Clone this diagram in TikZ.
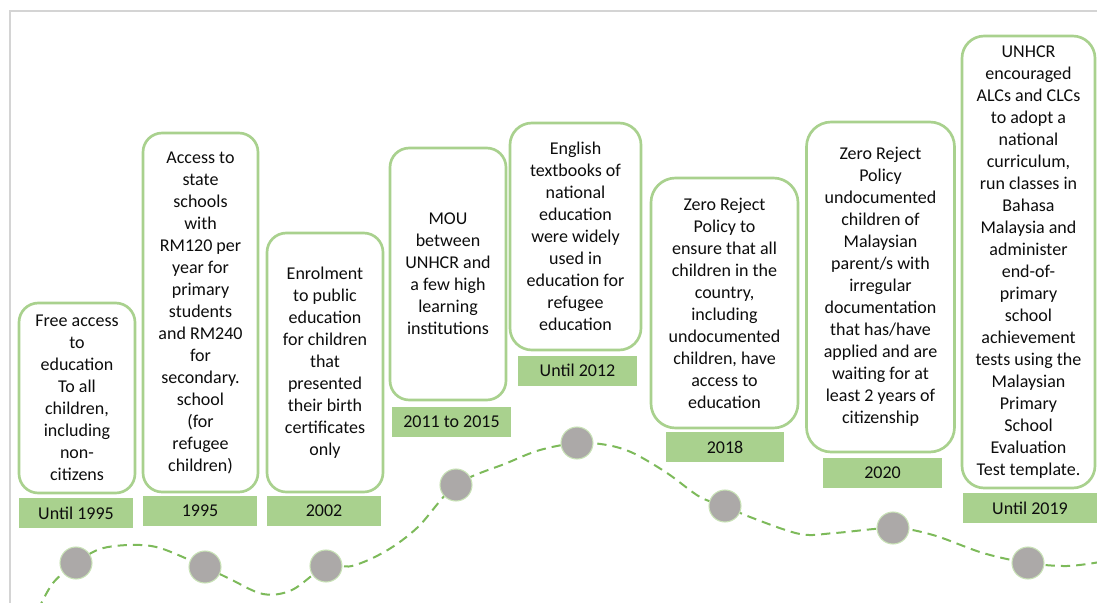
\documentclass[tikz,border=0pt]{standalone}
\usepackage{fontspec}
\setmainfont{Carlito}
\definecolor{boxgreen}{RGB}{169,209,142}
\definecolor{routegreen}{RGB}{125,186,90}
\definecolor{dotgray}{RGB}{172,169,168}
\definecolor{dotedge}{RGB}{200,226,182}
\definecolor{framegray}{RGB}{212,212,212}
\begin{document}
\begin{tikzpicture}[x=0.75pt,y=-0.75pt,
		txt/.style={font=\fontsize{13.5}{16.5}\selectfont, text=black!95, align=center, inner sep=0pt},
		event/.style 2 args={txt, draw=boxgreen, line width=2pt, fill=white, rounded corners=#1*0.125pt, minimum width=#1*0.75pt, minimum height=#2*0.75pt},
		year/.style={txt, fill=boxgreen, minimum width=#1*0.75pt, minimum height=22.5pt},
		dot/.style={circle, fill=dotgray, draw=dotedge, line width=0.8pt, minimum size=24pt, inner sep=0pt},
		route/.style={routegreen, line width=1.5pt, dash pattern=on 7pt off 4.5pt}]
	\useasboundingbox (0,0) rectangle (1097,603);
	\draw [framegray, line width=1.5pt] (10,603) -- (10,11) -- (1097,11);
	
	\node [event={116}{190}] (e1) at (77,398) {Free access\\to\\education\\To all\\children,\\including\\non-\\citizens};
	\node [event={115}{359}] (e2) at (200.5,312.5) {Access to\\state\\schools\\with\\RM120 per\\year for\\primary\\students\\and RM240\\for\\secondary.\\school\\(for\\refugee\\children)};
	\node [event={116}{259}] (e3) at (325,362.5) {Enrolment\\to public\\education\\for children\\that\\presented\\their birth\\certificates\\only};
	\node [event={116}{252}] (e4) at (448,274) {MOU\\between\\UNHCR and\\a few high\\learning\\institutions};
	\node [event={131}{227}] (e5) at (575.5,236.5) {English\\textbooks of\\national\\education\\were widely\\used in\\education for\\refugee\\education};
	\node [event={147}{250}] (e6) at (724.5,303) {Zero Reject\\Policy to\\ensure that all\\children in the\\country,\\including\\undocumented\\children, have\\access to\\education};
	\node [event={148}{330}] (e7) at (880.5,287) {Zero Reject\\Policy\\undocumented\\children of\\Malaysian\\parent/s with\\irregular\\documentation\\that has/have\\applied and are\\waiting for at\\least 2 years of\\citizenship};
	\node [event={133}{452}] (e8) at (1028.5,262) {UNHCR\\encouraged\\ALCs and CLCs\\to adopt a\\national\\curriculum,\\run classes in\\Bahasa\\Malaysia and\\administer\\end-of-\\primary\\school\\achievement\\tests using the\\Malaysian\\Primary\\School\\Evaluation\\Test template.};
	
	\node [year=114] (y1) at (76,513) {Until 1995};
	\node [year=114] (y2) at (200,510.5) {1995};
	\node [year=114] (y3) at (324,511) {2002};
	\node [year=119] (y4) at (451.5,422) {2011 to 2015};
	\node [year=119] (y5) at (577.5,370.5) {Until 2012};
	\node [year=118] (y6) at (725,447) {2018};
	\node [year=119] (y7) at (882.5,472.5) {2020};
	\node [year=134] (y8) at (1030,508) {Until 2019};
	
	\coordinate (p1) at (76,563);
	\coordinate (p2) at (205,567);
	\coordinate (p3) at (326,566);
	\coordinate (p4) at (456,485);
	\coordinate (p5) at (577,443);
	\coordinate (p6) at (725,506);
	\coordinate (p7) at (893,528);
	\coordinate (p8) at (1028,563);
	
	\draw [route] plot [smooth, tension=0.55] coordinates {(38,610) (53,583) (p1) (100,549) (130,545) (160,548) (p2) (230,579) (263,594) (292,590) (p3) (352,566) (386,551) (418,527) (p4) (507,463) (540,450) (p5) (607,445) (633,453) (667,473) (700,497) (p6) (750,517) (800,534) (835,533) (p7) (933,535) (983,553) (p8) (1067,566) (1100,562)};
	
	\foreach \i in {1,...,8}
		\node [dot] (d\i) at (p\i) {};
\end{tikzpicture}
\end{document}
